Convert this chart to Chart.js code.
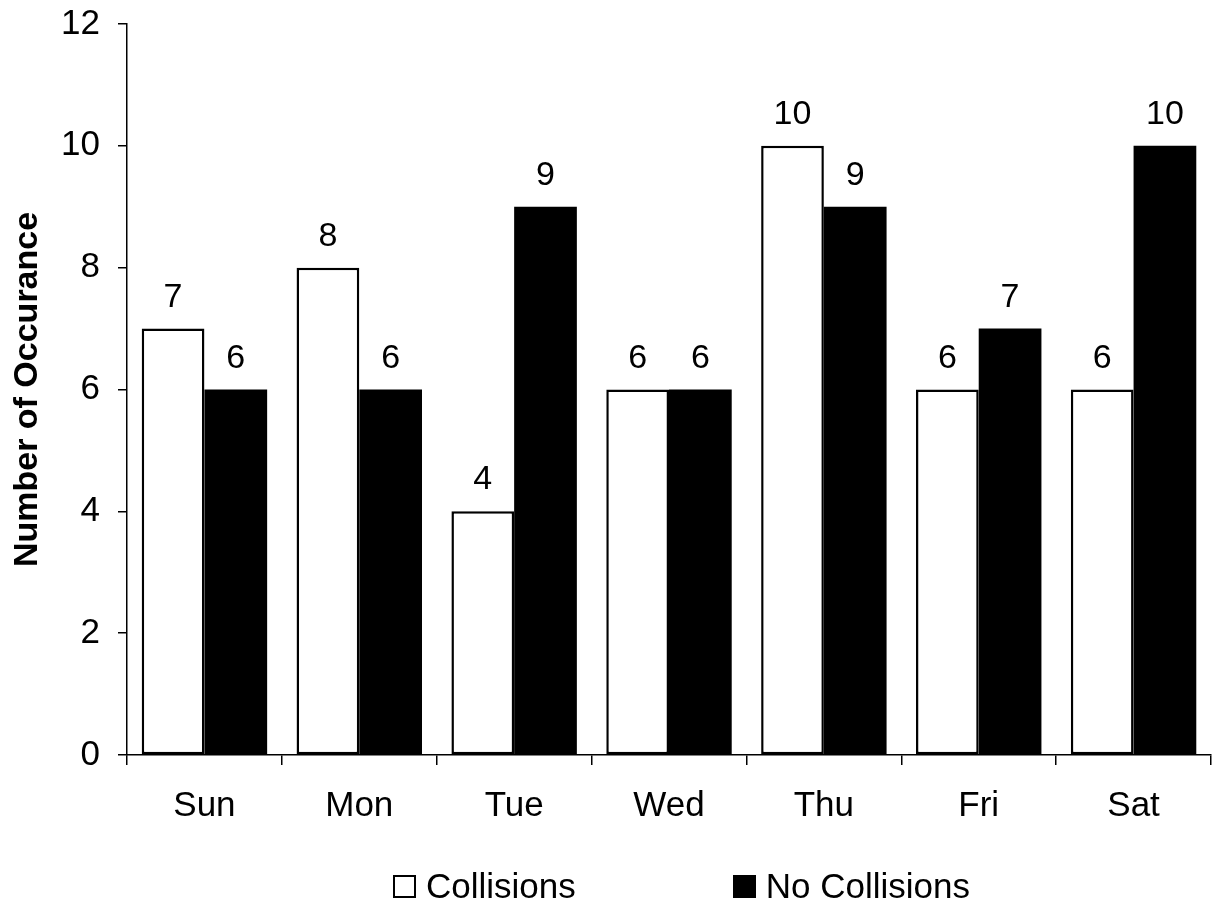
<!DOCTYPE html>
<html lang="en">
<head>
    <meta charset="UTF-8">
    <title>Collisions by Day</title>
    <script src="https://cdn.jsdelivr.net/npm/chart.js"></script>
    <style>
        body { margin: 0; background: #fff; font-family: "Liberation Sans", Arial, sans-serif; }
        #wrap { position: relative; width: 1219px; height: 901px; }
        #legend { position: absolute; left: 393px; top: 866px; display: flex; gap: 157px; font-size: 35px; color: #000; }
        .item { display: flex; align-items: center; }
        .box { width: 19px; height: 19px; border: 2px solid #000; margin-right: 10px; }
    </style>
</head>
<body>
    <div id="wrap">
        <canvas id="dayChart" width="1219" height="901"></canvas>
        <div id="legend"></div>
    </div>

    <script>
        const days = ["Sun", "Mon", "Tue", "Wed", "Thu", "Fri", "Sat"];
        const collisions = [7, 8, 4, 6, 10, 6, 6];
        const noCollisions = [6, 6, 9, 6, 9, 7, 10];
        const yTicks = [0, 2, 4, 6, 8, 10, 12];

        const font = "'Liberation Sans', Arial, sans-serif";

        // numbers above each bar
        const valueLabels = {
            id: "valueLabels",
            afterDatasetsDraw(chart) {
                const ctx = chart.ctx;
                ctx.save();
                ctx.fillStyle = "#000";
                ctx.font = "34px " + font;
                ctx.textAlign = "center";
                ctx.textBaseline = "alphabetic";
                chart.data.datasets.forEach((ds, i) => {
                    chart.getDatasetMeta(i).data.forEach((bar, j) => {
                        ctx.fillText(ds.data[j], bar.x, bar.y - 22);
                    });
                });
                ctx.restore();
            }
        };

        const chart = new Chart(document.getElementById("dayChart").getContext("2d"), {
            type: "bar",
            data: {
                labels: days,
                datasets: [{
                    label: "Collisions",
                    data: collisions,
                    backgroundColor: "#fff",
                    borderColor: "#000",
                    borderWidth: 2.5,
                    borderSkipped: false
                }, {
                    label: "No Collisions",
                    data: noCollisions,
                    backgroundColor: "#000",
                    borderColor: "#000",
                    borderWidth: 0
                }]
            },
            options: {
                responsive: false,
                animation: false,
                categoryPercentage: 0.81,
                barPercentage: 1.0,
                layout: { padding: { top: 24, right: 8, bottom: 0, left: 0 } },
                plugins: {
                    legend: { display: false },
                    tooltip: { enabled: false }
                },
                scales: {
                    x: {
                        afterFit(scale) { scale.height = 146; },
                        grid: { display: true, drawOnChartArea: false, drawTicks: true, tickLength: 10, color: "#000", lineWidth: 1.5 },
                        border: { display: true, color: "#000", width: 1.5 },
                        ticks: { color: "#000", padding: 20, font: { family: font, size: 35 } }
                    },
                    y: {
                        min: 0,
                        max: 12,
                        afterFit(scale) {
                            scale.width = 127;
                            scale.paddingTop = 0;
                            scale.paddingBottom = 0;
                        },
                        afterBuildTicks(scale) { scale.ticks = yTicks.map(v => ({ value: v })); },
                        grid: { display: true, drawOnChartArea: false, drawTicks: true, tickLength: 9, color: "#000", lineWidth: 1.5 },
                        border: { display: true, color: "#000", width: 1.5 },
                        ticks: { color: "#000", padding: 18, font: { family: font, size: 35 } },
                        title: {
                            display: true,
                            text: "Number of Occurance",
                            color: "#000",
                            padding: { top: 7, bottom: 0 },
                            font: { family: font, size: 34, weight: "bold" }
                        }
                    }
                }
            },
            plugins: [valueLabels]
        });

        // legend drawn as html, from the chart's datasets
        const legend = document.getElementById("legend");
        chart.data.datasets.forEach(ds => {
            const item = document.createElement("div");
            item.className = "item";
            const box = document.createElement("span");
            box.className = "box";
            box.style.background = ds.backgroundColor;
            item.appendChild(box);
            item.appendChild(document.createTextNode(ds.label));
            legend.appendChild(item);
        });
    </script>
</body>
</html>
